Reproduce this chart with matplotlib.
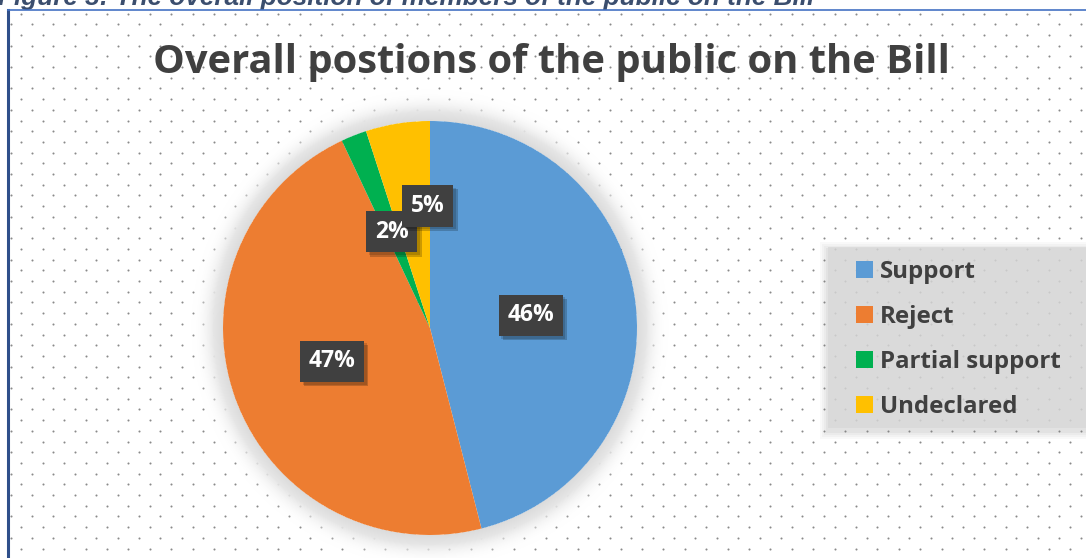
import numpy as np
import matplotlib
matplotlib.use('Agg')
import matplotlib.pyplot as plt
from matplotlib import patheffects
from matplotlib.patches import Rectangle, Patch

W, H = 1086, 558

## Data
categories = ['Support', 'Reject', 'Partial support', 'Undeclared']
shares = [46, 47, 2, 5]
colors = ['#5B9BD5', '#ED7D31', '#00B050', '#FFC000']

title = 'Overall postions of the public on the Bill'
caption = 'Figure 3: The overall position of members of the public on the Bill'

plt.rcParams['font.family'] = ['Open Sans', 'DejaVu Sans']

fig = plt.figure(figsize=(W/100, H/100), dpi=100)
ax = fig.add_axes([0, 0, 1, 1])
ax.set_xlim(0, W)
ax.set_ylim(0, H)
ax.set_aspect('equal')
ax.axis('off')

def py(y):
    # pixel row (from top) -> data y
    return H - y

# dotted background inside the frame
gx, gy = 21.4, 10.7
pts = []
for k, y in enumerate(np.arange(13.5, H, gy)):
    x0 = 21.3 if k % 2 == 0 else 10.7
    for x in np.arange(x0, W, gx):
        pts.append((x, py(y)))
pts = np.array(pts)
ax.scatter(pts[:, 0], pts[:, 1], s=2.2, c='#8a8a8a', lw=0, zorder=0)

# frame lines
ax.plot([7.5, 7.5], [py(10), 0], color='#2F4F8A', lw=2.2, zorder=5)
ax.plot([7.5, W], [py(10), py(10)], color='#4472C4', lw=1.2, zorder=5)

# caption above the frame (top half falls off the canvas)
ax.text(-2, py(5.5), caption, fontsize=18.8, fontweight='bold', style='italic',
        family='Liberation Sans', color='#3B4E6E', va='baseline', ha='left')

ax.text(551, py(62), title, fontsize=28.7, fontweight='bold', color='#404040',
        ha='center', va='center', zorder=6)

# pie
cx, cy, r = 430, py(328), 207

# soft glow around the pie
yy, xx = np.mgrid[0:H, 0:W]
d = np.hypot(xx + 0.5 - cx, (H - yy - 0.5) - cy) - r
t = np.clip(1 - d / 32, 0, 1)
t[d < 0] = 0
glow = np.zeros((H, W, 4))
shade = 1 - 0.14 * t
glow[..., 0] = shade
glow[..., 1] = shade
glow[..., 2] = shade
glow[..., 3] = np.clip(t * 1.4, 0, 1) ** 1.3
ax.imshow(glow, extent=(0, W, 0, H), origin='upper', zorder=1, interpolation='bilinear')

wedges, _ = ax.pie(shares, colors=colors, startangle=90, counterclock=False,
                   center=(cx, cy), radius=r, wedgeprops=dict(lw=0))
for w in wedges:
    w.set_zorder(2)
ax.set_xlim(0, W)
ax.set_ylim(0, H)

# value labels in dark boxes
lab_frac = [0.49, 0.50, 0.50, 0.59]
lab_nudge = [0, -1, 0, -8]
for w, v, f, n in zip(wedges, shares, lab_frac, lab_nudge):
    ang = np.deg2rad((w.theta1 + w.theta2) / 2 + n)
    x = cx + f * r * np.cos(ang)
    y = cy + f * r * np.sin(ang)
    ax.text(x, y, f'{v}%', fontsize=16.5, fontweight='bold', color='white',
            ha='center', va='center', zorder=4,
            bbox=dict(boxstyle='square,pad=0.38', fc='#404040', ec='none',
                      path_effects=[patheffects.SimplePatchShadow(offset=(3, -3), shadow_rgbFace='black', alpha=0.2),
                                    patheffects.SimplePatchShadow(offset=(2, -2), shadow_rgbFace='black', alpha=0.15),
                                    patheffects.Normal()]))

# legend panel with soft shadow
lx0, ly0, lx1, ly1 = 828, 247, W + 20, 428
for i, a in enumerate([0.04, 0.05, 0.06, 0.08]):
    g = 8 - 2 * i
    ax.add_patch(Rectangle((lx0 - g, py(ly1 + g + 3)), lx1 - lx0 + 2 * g, ly1 - ly0 + 2 * g,
                           fc='#7f7f7f', ec='none', alpha=a, zorder=2))
ax.add_patch(Rectangle((lx0, py(ly1)), lx1 - lx0, ly1 - ly0, fc='#d9d9d9', ec='none',
                       alpha=0.8, zorder=3))

handles = [Patch(fc=c, ec='none') for c in colors]
leg = ax.legend(handles, categories, loc='upper left', bbox_to_anchor=(856 / W, 1 - 260 / H),
                frameon=False, fontsize=17.3, handlelength=0.7, handleheight=0.7,
                handletextpad=0.3, labelspacing=0.87, borderpad=0, borderaxespad=0)
for txt in leg.get_texts():
    txt.set_color('#404040')
    txt.set_fontweight('bold')
leg.set_zorder(6)

fig.savefig('out.png', dpi=100)
